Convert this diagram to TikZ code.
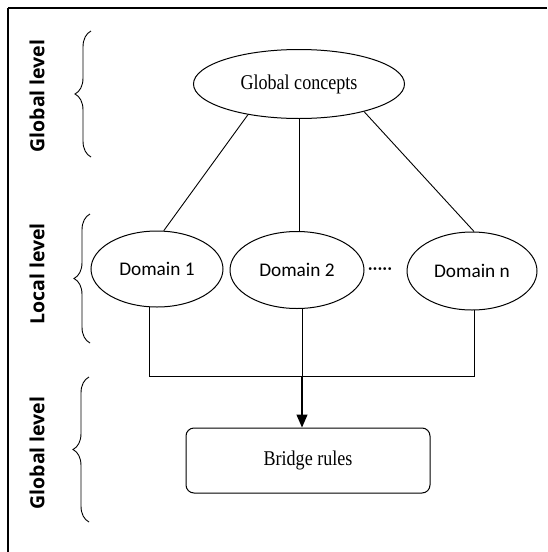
\documentclass[tikz,border=0pt]{standalone}
\usepackage{fontspec}
\setmainfont{Liberation Serif}
\newfontfamily\tnrfont[FakeStretch=0.86]{Liberation Serif}
\newfontfamily\calfont{Carlito}
\newfontfamily\lblfont{Open Sans}
\usetikzlibrary{shapes.geometric,arrows.meta,decorations.pathreplacing}
\tikzset{
  ell/.style={ellipse, draw, line width=1pt, inner sep=0pt},
  domtext/.style={font=\calfont\fontsize{19.3}{22}\selectfont},
  serift/.style={font=\tnrfont\fontsize{21}{25}\selectfont},
  lbl/.style={rotate=90, font=\lblfont\bfseries\fontsize{19.5}{22}\selectfont},
  conn/.style={line width=0.9pt},
  bracestyle/.style={line width=0.9pt, decorate, decoration={brace, amplitude=16pt, aspect=0.5}},
}
\begin{document}
\begin{tikzpicture}[x=1pt,y=-1pt]
\useasboundingbox (0,0) rectangle (547,552);
% frame
\draw[line width=1.8pt] (547,8) -- (8,8);
\draw[line width=1.1pt] (8,8) -- (8,552);
% nodes
\node[ell, serift, minimum width=211pt, minimum height=69pt] (gc) at (299,84) {Global concepts};
\node[ell, domtext, minimum width=132pt, minimum height=76pt] (d1) at (157,269) {Domain 1};
\node[ell, domtext, minimum width=134pt, minimum height=77pt] (d2) at (297,270) {Domain 2};
\node[ell, domtext, minimum width=130pt, minimum height=78pt] (dn) at (472,271) {Domain n};
\node[domtext] (dots) at (380,271) {·····};
\node[draw, line width=1pt, rounded corners=8pt, serift, minimum width=244pt, minimum height=65pt] (br) at (308,460.5) {Bridge rules};
\coordinate (j) at (302,376);
% connectors
\draw[conn] (gc.211) -- (d1.80);
\draw[conn] (gc.south) -- (gc.south |- d2.north);
\draw[conn] (gc.-23) -- (dn.87);
\draw[conn] (d1.259) |- (j);
\draw[conn] (dn.273) |- (j);
\draw[conn] (j |- d2.south) -- (j);
\draw[line width=1.3pt, -{Triangle[width=11pt,length=13pt]}] (j) -- (j |- br.north);
% braces
\draw[bracestyle] (91,157) -- (91,31);
\draw[bracestyle] (90,343) -- (90,214);
\draw[bracestyle] (89,522) -- (89,377);
% level labels
\node[lbl] (l1) at (37,96) {Global level};
\node[lbl] (l2) at (37,274) {Local level};
\node[lbl] (l3) at (37,453) {Global level};
\end{tikzpicture}
\end{document}
